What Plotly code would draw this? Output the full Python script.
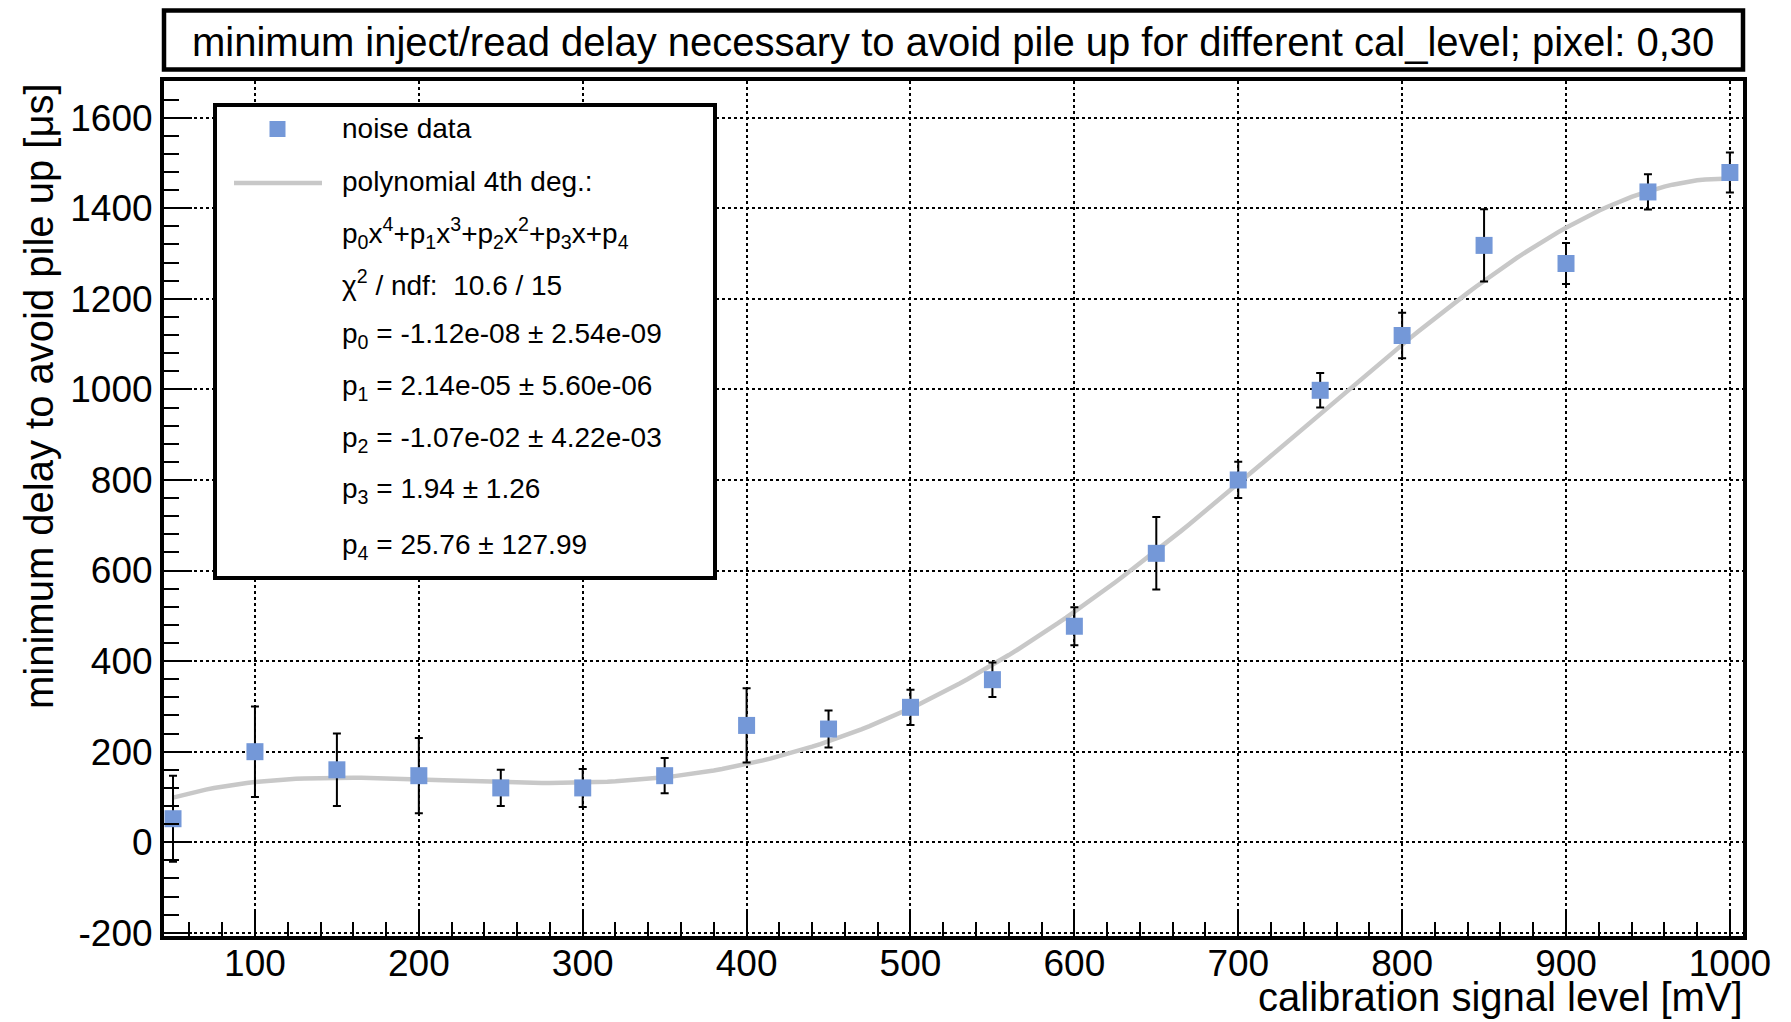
import plotly.graph_objects as go

# ---------------- data ----------------
cal_level = [50, 100, 150, 200, 250, 300, 350, 400, 450, 500,
             550, 600, 650, 700, 750, 800, 850, 900, 950, 1000]
min_delay = [52, 200, 160, 147, 120, 120, 147, 258, 250, 298,
             359, 477, 638, 800, 998, 1119, 1318, 1278, 1436, 1479]
delay_err = [95, 100, 80, 83, 40, 42, 39, 82, 41, 39,
             38, 42, 80, 40, 38, 50, 80, 45, 39, 44]

# fit parameters shown in the legend (p0 x^4 + p1 x^3 + p2 x^2 + p3 x + p4)
fit_params = [-1.12e-08, 2.14e-05, -1.07e-02, 1.94, 25.76]
fit_errors = ["2.54e-09", "5.60e-06", "4.22e-03", "1.26", "127.99"]
fit_values = ["-1.12e-08", "2.14e-05", "-1.07e-02", "1.94", "25.76"]
chi2_text = "10.6 / 15"

x_ticks = [100, 200, 300, 400, 500, 600, 700, 800, 900, 1000]
y_ticks = [-200, 0, 200, 400, 600, 800, 1000, 1200, 1400, 1600]
y_tick_text = ["-200", "0", "200", "400", "600", "800", "1000", "1200", "1400", "1600"]

title_text = "minimum inject/read delay necessary to avoid pile up for different cal_level; pixel: 0,30"
x_title = "calibration signal level [mV]"
y_title = "minimum delay to avoid pile up [μs]"

# fit curve evaluated from the displayed parameters
fit_x = [50 + 5 * i for i in range(191)]
fit_y = [sum(p * x ** (4 - k) for k, p in enumerate(fit_params)) for x in fit_x]

# ---------------- layout geometry ----------------
W, H = 1791, 1022
L, R, T, B = 164, 1743, 81, 936
FONT = "Liberation Sans, Arial, Helvetica, sans-serif"
MARKER_COLOR = "#7498d8"


def px(x):
    return (x - L) / (R - L)


def py(y):
    return (B - y) / (B - T)


fig = go.Figure()

fig.add_trace(go.Scatter(
    x=fit_x, y=fit_y, mode="lines",
    line=dict(color="#c8c8c8", width=4.5),
    hoverinfo="skip", showlegend=False,
))

fig.add_trace(go.Scatter(
    x=cal_level, y=min_delay, mode="markers",
    marker=dict(symbol="square", size=17, color=MARKER_COLOR),
    error_y=dict(type="data", array=delay_err, symmetric=True,
                 color="black", thickness=2, width=4),
    showlegend=False,
))

axis_common = dict(
    showline=True, linecolor="black", linewidth=4, mirror=True,
    showgrid=True, gridcolor="black", gridwidth=2, griddash="dot",
    zeroline=False, ticks="inside", tickcolor="black", tickwidth=2,
    tickfont=dict(family=FONT, size=37, color="black"),
)

fig.update_xaxes(
    **axis_common, range=[44.5, 1008], tickvals=x_ticks, ticklen=26,
    ticklabelstandoff=-8,
    minor=dict(dtick=20, tick0=0, ticks="inside", ticklen=14,
               tickcolor="black", tickwidth=2, showgrid=False),
)
fig.update_yaxes(
    **axis_common, range=[-207, 1681], tickvals=y_ticks, ticktext=y_tick_text,
    ticklen=28,
    minor=dict(dtick=40, tick0=0, ticks="inside", ticklen=15,
               tickcolor="black", tickwidth=2, showgrid=False),
)

shapes = [
    # title box
    dict(type="rect", xref="paper", yref="paper", x0=0, x1=1,
         y0=py(69.5), y1=py(10.5), line=dict(color="black", width=4.5),
         fillcolor="white", layer="above"),
    # legend box
    dict(type="rect", xref="paper", yref="paper", x0=px(215), x1=px(715),
         y0=py(578), y1=py(105), line=dict(color="black", width=4),
         fillcolor="white", layer="above"),
    # legend marker sample
    dict(type="rect", xref="paper", yref="paper", x0=px(269.5), x1=px(285.5),
         y0=py(137), y1=py(121), line=dict(width=0),
         fillcolor=MARKER_COLOR, layer="above"),
    # legend line sample
    dict(type="line", xref="paper", yref="paper", x0=px(234), x1=px(322),
         y0=py(183), y1=py(183), line=dict(color="#c8c8c8", width=4.5),
         layer="above"),
]

annotations = [
    dict(text=title_text, xref="paper", yref="paper", x=px(953), y=py(42),
         xanchor="center", yanchor="middle", showarrow=False,
         font=dict(family=FONT, size=40, color="black")),
    dict(text=x_title, xref="paper", yref="paper", x=px(1745), y=py(997),
         xanchor="right", yanchor="middle", showarrow=False,
         font=dict(family=FONT, size=40, color="black")),
    dict(text=y_title, xref="paper", yref="paper", x=px(39), y=py(396),
         xanchor="center", yanchor="middle", textangle=-90, showarrow=False,
         font=dict(family=FONT, size=40, color="black")),
]

legend_rows = [
    "noise data",
    "polynomial 4th deg.:",
    "p<sub>0</sub>x<sup>4</sup>+p<sub>1</sub>x<sup>3</sup>+p<sub>2</sub>x<sup>2</sup>"
    "+p<sub>3</sub>x+p<sub>4</sub>",
    "χ<sup>2</sup> / ndf: &nbsp;" + chi2_text,
]
for i in range(5):
    legend_rows.append("p<sub>%d</sub> = %s ± %s" % (i, fit_values[i], fit_errors[i]))
legend_row_y = [129, 182, 233, 283, 335, 387, 439, 490, 546]

for txt, yy in zip(legend_rows, legend_row_y):
    annotations.append(dict(
        text=txt, xref="paper", yref="paper", x=px(340), y=py(yy),
        xanchor="left", yanchor="middle", showarrow=False,
        font=dict(family=FONT, size=28, color="black")))

fig.update_layout(
    width=W, height=H,
    margin=dict(l=L, r=W - R, t=T, b=H - B),
    paper_bgcolor="white", plot_bgcolor="white",
    shapes=shapes, annotations=annotations,
    showlegend=False,
)

fig.write_html("out.html")
